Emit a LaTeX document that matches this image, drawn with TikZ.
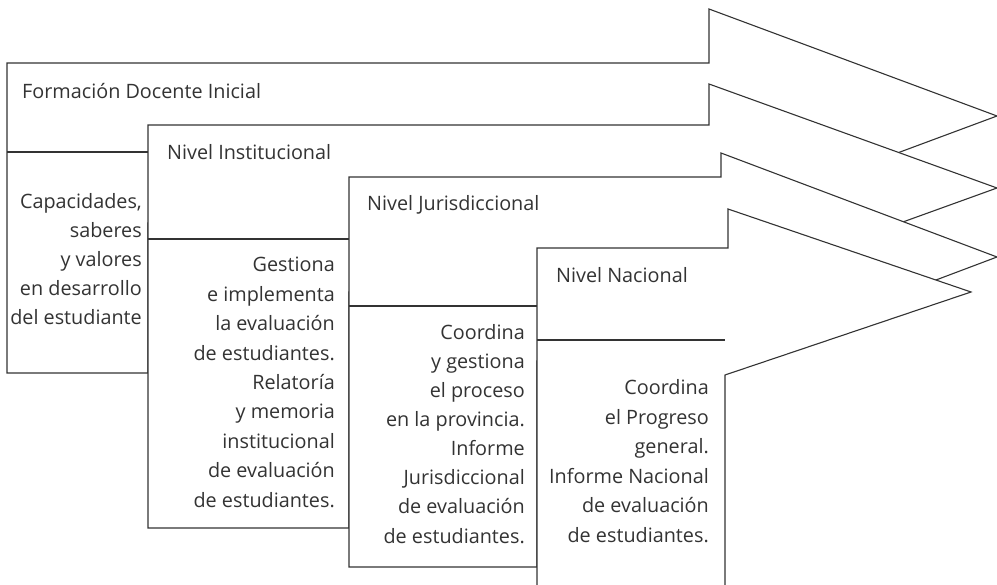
\documentclass[tikz,border=0pt]{standalone}
\usepackage{fontspec}
\setmainfont{Open Sans}
\usetikzlibrary{positioning}
\definecolor{inkgray}{HTML}{333333}
\tikzset{
	stage/.style={draw=inkgray,fill=white,line width=1.1pt,line join=miter},
	divide/.style={draw=inkgray,line width=1.1pt},
	title/.style={anchor=base west,inner sep=0pt,text=inkgray,font=\fontsize{19.8}{29}\selectfont},
	boxline/.style={anchor=base east,inner sep=0pt,text=inkgray,font=\fontsize{19.8}{29}\selectfont}
}
\begin{document}
\begin{tikzpicture}[x=1pt,y=-1pt]
	\useasboundingbox (0,0) rectangle (997,585);

	\draw[stage] (7,373) -- (7,63) -- (709,63) -- (709,9) -- (997,116) -- (709,223) -- (148,223) -- (148,373) -- cycle;
	\draw[divide] (7,152) -- (148,152);
	\node[title] (fdi) at (22,99) {Formación Docente Inicial};
	\foreach \t [count=\n] in {{Capacidades,},saberes,y valores,en desarrollo,del estudiante}
		\node[boxline] (A\n) at (142,{209+29*(\n-1)}) {\t};

	\draw[stage] (148,528) -- (148,125) -- (709,125) -- (709,84) -- (997,188) -- (709,292) -- (349,292) -- (349,528) -- cycle;
	\draw[divide] (148,239) -- (349,239);
	\node[title] (inst) at (167,160) {Nivel Institucional};
	\foreach \t [count=\n] in {Gestiona,e implementa,la evaluación,de estudiantes.,Relatoría,y memoria,institucional,de evaluación,de estudiantes.}
		\node[boxline] (B\n) at (335,{272+29.4*(\n-1)}) {\t};

	\draw[stage] (349,567) -- (349,177) -- (721,177) -- (721,153) -- (997,257) -- (721,361) -- (537,361) -- (537,567) -- cycle;
	\draw[divide] (349,306) -- (537,306);
	\node[title] (juris) at (367,211) {Nivel Jurisdiccional};
	\foreach \t [count=\n] in {Coordina,y gestiona,el proceso,en la provincia.,Informe,Jurisdiccional,de evaluación,de estudiantes.}
		\node[boxline] (C\n) at (525,{340+29*(\n-1)}) {\t};

	\draw[stage] (537,600) -- (537,248) -- (728,248) -- (728,209) -- (971,292) -- (725,375) -- (725,600);
	\draw[divide] (537,340) -- (725,340);
	\node[title] (nac) at (556,283) {Nivel Nacional};
	\foreach \t [count=\n] in {Coordina,el Progreso,general.,Informe Nacional,de evaluación,de estudiantes.}
		\node[boxline] (D\n) at (709,{395+29.4*(\n-1)}) {\t};
\end{tikzpicture}
\end{document}
